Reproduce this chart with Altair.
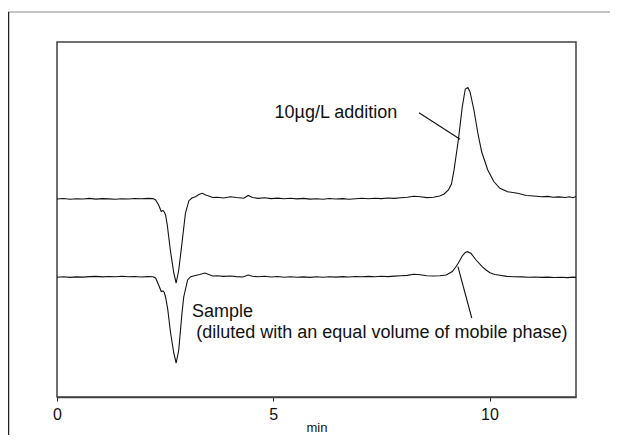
import altair as alt
import pandas as pd

# ---- data ----
upper_t = [0.00, 0.15, 0.30, 0.45, 0.60, 0.75, 0.90, 1.05, 1.20, 1.35, 1.50, 1.65, 1.80, 1.95, 2.10, 2.22,
           2.28, 2.35, 2.41, 2.45, 2.48, 2.51, 2.55, 2.62, 2.70, 2.755, 2.815, 2.89, 2.97, 3.05, 3.12, 3.20,
           3.28, 3.36, 3.44, 3.51, 3.60, 3.70, 3.85, 4.01, 4.15, 4.32, 4.42, 4.52, 4.65, 4.80, 4.95, 5.10,
           5.25, 5.40, 5.55, 5.70, 5.85, 6.00, 6.15, 6.30, 6.45, 6.60, 6.75, 6.90, 7.05, 7.20, 7.35, 7.50,
           7.65, 7.80, 7.95, 8.10, 8.25, 8.40, 8.55, 8.70, 8.85, 8.95, 9.05, 9.12, 9.18, 9.28, 9.37, 9.44,
           9.50, 9.55, 9.64, 9.73, 9.82, 9.96, 10.10, 10.24, 10.42, 10.65, 10.85, 11.02, 11.20, 11.35, 11.47,
           11.60, 11.75, 11.85, 11.93, 12.00]
upper_v = [198.0, 198.5, 197.8, 198.3, 198.0, 198.6, 197.9, 198.4, 198.1, 197.7, 198.3, 198.0, 198.5, 198.2, 198.6, 198.4,
           197.0, 192.0, 185.5, 186.5, 185.0, 182.0, 172.0, 147.0, 124.0, 114.0, 127.0, 154.0, 184.0, 196.3, 199.0, 200.3,
           202.5, 203.7, 202.0, 201.0, 199.5, 199.7, 199.0, 200.3, 199.5, 198.7, 201.5, 199.5, 198.6, 199.2, 198.4, 198.9,
           198.2, 198.7, 198.1, 198.6, 197.9, 198.3, 197.8, 198.5, 198.0, 198.4, 197.7, 198.3, 198.8, 198.2, 198.7, 198.4,
           199.0, 198.6, 199.2, 199.7, 200.8, 200.2, 199.4, 199.8, 201.0, 203.0, 207.0, 213.0, 227.0, 257.0, 290.0, 308.0,
           309.5, 305.0, 287.0, 264.0, 245.0, 227.0, 215.5, 208.7, 205.3, 203.7, 201.5, 201.0, 200.3, 200.6, 199.7,
           200.1, 199.5, 200.2, 199.3, 200.5]

lower_t = [0.00, 0.15, 0.30, 0.45, 0.60, 0.75, 0.90, 1.05, 1.20, 1.35, 1.50, 1.65, 1.80, 1.95, 2.10, 2.22,
           2.28, 2.35, 2.41, 2.45, 2.48, 2.51, 2.56, 2.62, 2.70, 2.755, 2.815, 2.89, 2.93, 3.02, 3.09, 3.20,
           3.30, 3.42, 3.51, 3.60, 3.70, 3.85, 4.01, 4.15, 4.30, 4.42, 4.52, 4.65, 4.80, 4.95, 5.10, 5.25,
           5.40, 5.55, 5.70, 5.85, 6.00, 6.15, 6.30, 6.45, 6.60, 6.75, 6.90, 7.05, 7.20, 7.35, 7.50, 7.65,
           7.80, 7.95, 8.10, 8.25, 8.40, 8.55, 8.70, 8.85, 9.00, 9.08, 9.14, 9.22, 9.28, 9.37, 9.44, 9.49,
           9.57, 9.69, 9.83, 9.92, 10.01, 10.12, 10.24, 10.40, 10.56, 10.75, 10.90, 11.05, 11.20, 11.35, 11.50,
           11.65, 11.80, 11.93, 12.00]
lower_v = [119.8, 120.2, 119.6, 120.1, 119.9, 120.4, 120.6, 120.1, 120.5, 120.3, 120.8, 120.2, 120.5, 120.0, 120.4, 120.2,
           119.0, 112.0, 105.5, 106.0, 104.5, 100.0, 88.0, 66.0, 44.0, 34.0, 47.0, 84.0, 100.0, 117.0, 120.3, 121.5,
           122.5, 124.0, 122.5, 121.0, 121.3, 120.6, 121.0, 120.4, 120.0, 122.0, 120.8, 120.2, 120.7, 120.0, 120.5, 119.8,
           120.3, 119.7, 120.1, 119.6, 120.2, 119.8, 120.3, 119.9, 120.4, 120.0, 120.5, 120.2, 120.6, 120.3, 120.8, 120.4,
           120.9, 121.2, 121.6, 122.7, 122.2, 121.3, 121.0, 121.2, 122.0, 124.0, 125.5, 130.0, 134.0, 141.0, 144.5, 145.3,
           143.7, 137.0, 130.3, 127.0, 124.3, 122.5, 121.7, 120.6, 120.3, 120.1, 119.7, 120.0, 119.6, 119.9, 119.5,
           119.8, 119.4, 119.9, 119.6]

label_text = ["10\u00b5g/L addition", "Sample", "(diluted with an equal volume of mobile phase)"]
label_t = [5.03, 3.12, 3.22]
label_v = [284.5, 85.0, 64.0]

leader_t = [8.37, 9.27]
leader_t2 = [9.32, 9.59]
leader_v = [284.3, 130.3]
leader_v2 = [257.7, 79.0]

x_ticks = [0, 5, 10]

# ---- build tables ----
traces = pd.DataFrame({
    "t": upper_t + lower_t,
    "v": upper_v + lower_v,
    "series": ["10ug/L addition"] * len(upper_t) + ["Sample"] * len(lower_t),
})
labels = pd.DataFrame({"t": label_t, "v": label_v, "text": label_text})
leaders = pd.DataFrame({"t": leader_t, "t2": leader_t2, "v": leader_v, "v2": leader_v2})

xscale = alt.Scale(domain=[0, 12], nice=False, zero=False)
yscale = alt.Scale(domain=[0, 355], nice=False, zero=False)

xaxis = alt.Axis(values=x_ticks, title="min", grid=False, tickSize=4, tickColor="#222",
                 domainColor="#404040", domainWidth=1.5, labelFontSize=16, labelFont="Liberation Sans",
                 labelColor="#111", labelPadding=5, titleFont="Liberation Sans", titleFontSize=13,
                 titleFontWeight="normal", titleColor="#111", titleBaseline="alphabetic", titleY=34,
                 labelFlush=False)

lines = alt.Chart(traces).mark_line(color="#111", strokeWidth=1.1).encode(
    x=alt.X("t:Q", scale=xscale, axis=xaxis),
    y=alt.Y("v:Q", scale=yscale, axis=None),
    detail="series:N",
    order="t:Q",
)

lead = alt.Chart(leaders).mark_rule(color="#111", strokeWidth=1.1).encode(
    x="t:Q", x2="t2:Q", y="v:Q", y2="v2:Q",
)

txt = alt.Chart(labels).mark_text(align="left", baseline="middle", font="Liberation Sans",
                                  fontSize=18, color="#111").encode(
    x="t:Q", y="v:Q", text="text:N",
)

frame_df = pd.DataFrame({"k": [0]})
frame_top = alt.Chart(frame_df).mark_rule(color="#8a8a8a", strokeWidth=1.2).encode(
    x=alt.value(-49), x2=alt.value(553), y=alt.value(-30)
)
frame_left = alt.Chart(frame_df).mark_rule(color="#222", strokeWidth=1.5).encode(
    x=alt.value(-48.5), y=alt.value(-30), y2=alt.value(400)
)

chart = alt.layer(lines, lead, txt, frame_top, frame_left).properties(
    width=519, height=355,
    padding={"left": 49, "top": 34, "right": 34, "bottom": 38},
    autosize=alt.AutoSizeParams(type="none"),
    background="white",
).configure_view(stroke="#404040", strokeWidth=1.5)

chart.save("out.html", embed_options={"renderer": "svg", "actions": False})
